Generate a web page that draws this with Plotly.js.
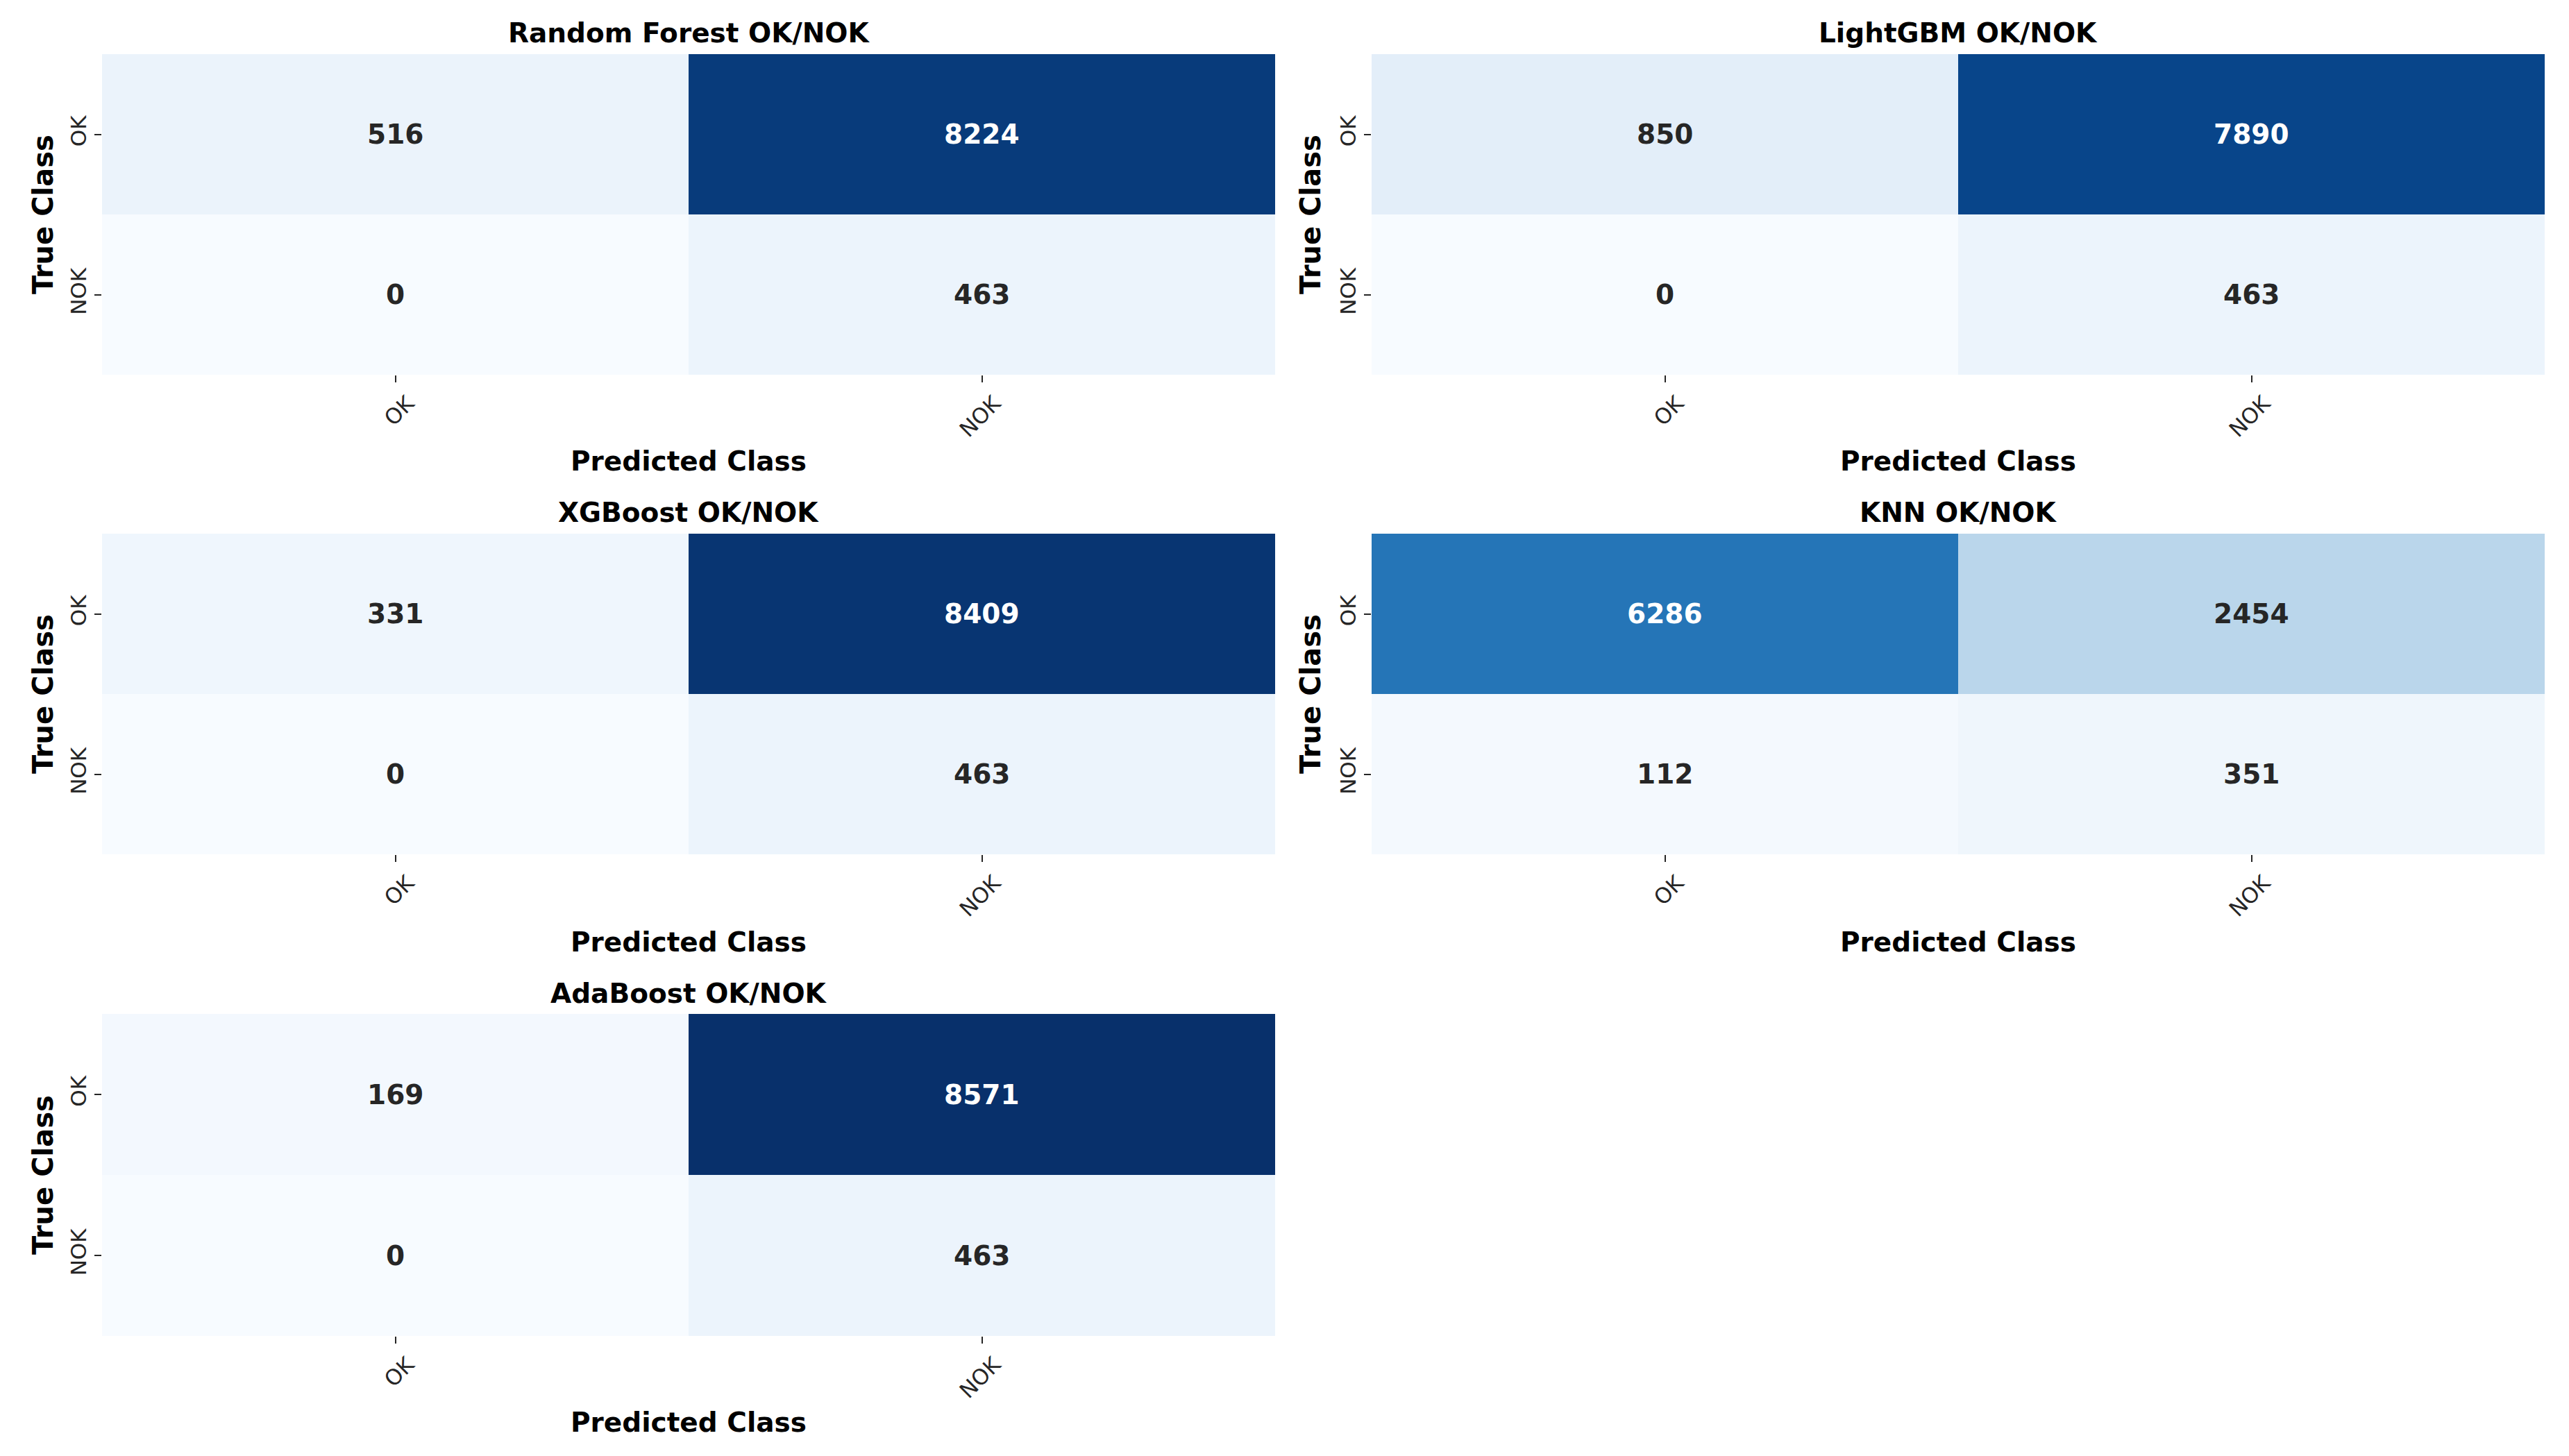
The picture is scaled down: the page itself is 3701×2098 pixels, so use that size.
<!DOCTYPE html>
<html>
<head>
<meta charset="utf-8">
<script src="https://cdn.plot.ly/plotly-3.0.1.min.js"></script>
<style>
  html, body { margin: 0; padding: 0; background: #ffffff; }
  #chart { width: 3701px; height: 2098px; }
</style>
</head>
<body>
<div id="chart"></div>
<script>
// Confusion matrices (rows = true class, columns = predicted class)
const classLabels = ['OK', 'NOK'];
const modelNames = ['Random Forest', 'LightGBM', 'XGBoost', 'KNN', 'AdaBoost'];
const randomForestMatrix = [[516, 8224], [0, 463]];
const lightGbmMatrix = [[850, 7890], [0, 463]];
const xgBoostMatrix = [[331, 8409], [0, 463]];
const knnMatrix = [[6286, 2454], [112, 351]];
const adaBoostMatrix = [[169, 8571], [0, 463]];

const matrices = [randomForestMatrix, lightGbmMatrix, xgBoostMatrix, knnMatrix, adaBoostMatrix];

// Figure geometry (pixels)
const W = 3701, H = 2098;
const colX = [[147, 1837], [1976, 3666]];
const rowY = [[78, 540], [769, 1231], [1461, 1925]];
const titleY = [48, 738, 1431];
const xTitleY = [665, 1357, 2049];
const yTitleX = [62, 1888];

// matplotlib "Blues" colour ramp
const bluesStops = ['#f7fbff', '#deebf7', '#c6dbef', '#9ecae1', '#6baed6',
                    '#4292c6', '#2171b5', '#08519c', '#08306b'];
const blues = bluesStops.map((c, i) => [i / (bluesStops.length - 1), c]);

const zMax = Math.max(...matrices.flat(2));
const zMin = 0;

const FONT = 'DejaVu Sans, Arial, sans-serif';
const DARK = '#262626';

const px = x => x / W;
const py = y => 1 - y / H;

const data = [];
const annotations = [];
const layout = {
  width: W,
  height: H,
  margin: { l: 0, r: 0, t: 0, b: 0 },
  paper_bgcolor: '#ffffff',
  plot_bgcolor: '#ffffff',
  showlegend: false,
  font: { family: FONT, color: DARK },
  annotations: annotations
};

matrices.forEach((m, i) => {
  const row = Math.floor(i / 2);
  const col = i % 2;
  const suffix = i === 0 ? '' : String(i + 1);
  const xa = 'x' + suffix, ya = 'y' + suffix;
  const [x0, x1] = colX[col];
  const [y0, y1] = rowY[row];

  data.push({
    type: 'heatmap',
    z: m,
    x: classLabels,
    y: classLabels,
    xaxis: xa,
    yaxis: ya,
    zmin: zMin,
    zmax: zMax,
    colorscale: blues,
    showscale: false,
    hoverinfo: 'x+y+z'
  });

  layout['xaxis' + suffix] = {
    domain: [px(x0), px(x1)],
    anchor: ya,
    type: 'category',
    showgrid: false,
    zeroline: false,
    showline: false,
    ticks: 'outside',
    ticklen: 10,
    tickwidth: 2,
    tickcolor: DARK,
    tickangle: -45,
    ticklabelshift: 18,
    tickfont: { family: FONT, size: 31, color: DARK }
  };
  layout['yaxis' + suffix] = {
    domain: [py(y1), py(y0)],
    anchor: xa,
    type: 'category',
    autorange: 'reversed',
    showgrid: false,
    zeroline: false,
    showline: false,
    ticks: 'outside',
    ticklen: 10,
    tickwidth: 2,
    tickcolor: DARK,
    tickangle: -90,
    tickfont: { family: FONT, size: 31, color: DARK }
  };

  // Cell counts
  m.forEach((rowVals, r) => {
    rowVals.forEach((v, c) => {
      annotations.push({
        xref: xa, yref: ya,
        x: classLabels[c], y: classLabels[r],
        text: '<b>' + v + '</b>',
        showarrow: false,
        font: { family: FONT, size: 39, color: (v - zMin) / (zMax - zMin) > 0.5 ? '#ffffff' : DARK }
      });
    });
  });

  // Panel title
  annotations.push({
    xref: 'paper', yref: 'paper',
    x: px((x0 + x1) / 2), y: py(titleY[row]),
    xanchor: 'center', yanchor: 'middle',
    text: '<b>' + modelNames[i] + ' OK/NOK</b>',
    showarrow: false,
    font: { family: FONT, size: 39, color: '#000000' }
  });

  // Axis titles
  annotations.push({
    xref: 'paper', yref: 'paper',
    x: px((x0 + x1) / 2), y: py(xTitleY[row]),
    xanchor: 'center', yanchor: 'middle',
    text: '<b>Predicted Class</b>',
    showarrow: false,
    font: { family: FONT, size: 39, color: '#000000' }
  });
  annotations.push({
    xref: 'paper', yref: 'paper',
    x: px(yTitleX[col]), y: py((y0 + y1) / 2),
    xanchor: 'center', yanchor: 'middle',
    textangle: -90,
    text: '<b>True Class</b>',
    showarrow: false,
    font: { family: FONT, size: 40, color: '#000000' }
  });
});

Plotly.newPlot('chart', data, layout, { staticPlot: true, displayModeBar: false });
</script>
</body>
</html>
